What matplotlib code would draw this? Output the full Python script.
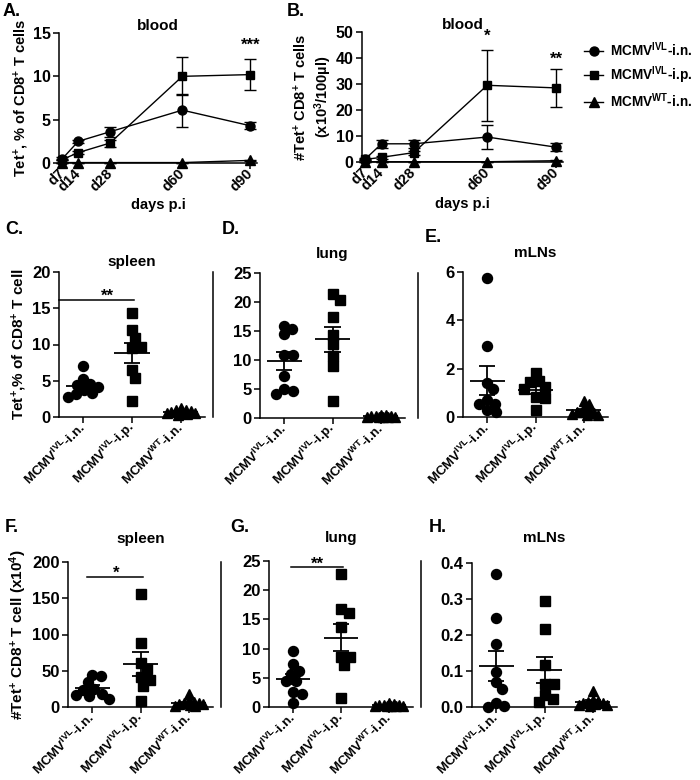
import numpy as np
import matplotlib
matplotlib.use('Agg')
import matplotlib.pyplot as plt
from matplotlib.lines import Line2D

plt.rcParams['font.family'] = ['Liberation Sans', 'DejaVu Sans']
plt.rcParams['font.weight'] = 'bold'
plt.rcParams['axes.labelweight'] = 'bold'
plt.rcParams['axes.titleweight'] = 'bold'
plt.rcParams['mathtext.fontset'] = 'custom'
plt.rcParams['mathtext.rm'] = 'Liberation Sans:bold'
plt.rcParams['mathtext.it'] = 'Liberation Sans:bold'
plt.rcParams['mathtext.bf'] = 'Liberation Sans:bold'
plt.rcParams['mathtext.default'] = 'rm'
plt.rcParams['axes.linewidth'] = 1.1

# ---- time course (blood) ----
days = [7, 14, 28, 60, 90]
day_labels = ['d7', 'd14', 'd28', 'd60', 'd90']

pct_in = [0.5, 2.5, 3.6, 6.1, 4.3]
pct_in_err = [0.2, 0.2, 0.6, 1.9, 0.4]
pct_ip = [0.4, 1.2, 2.3, 10.0, 10.2]
pct_ip_err = [0.1, 0.2, 0.4, 2.2, 1.8]
pct_wt = [0.05, 0.05, 0.05, 0.05, 0.3]
pct_wt_err = [0, 0, 0, 0, 0.05]

num_in = [1.2, 7.0, 7.0, 9.6, 5.7]
num_in_err = [0.5, 1.6, 1.6, 4.7, 1.5]
num_ip = [1.0, 1.8, 3.6, 29.5, 28.5]
num_ip_err = [0.3, 0.5, 0.8, 13.7, 7.2]
num_wt = [0.1, 0.1, 0.1, 0.1, 0.5]
num_wt_err = [0, 0, 0, 0, 0.1]

legend_labels = ['MCMV$^{IVL}$-i.n.', 'MCMV$^{IVL}$-i.p.', 'MCMV$^{WT}$-i.n.']
groups = legend_labels

# ---- organs, % Tet+ of CD8+ ----
spleen_pct = [
    [7.1, 5.3, 4.6, 4.4, 4.2, 3.7, 3.3, 3.2, 2.8],
    [14.4, 12.0, 10.9, 9.5, 9.6, 6.5, 5.4, 2.2],
    [1.2, 1.0, 0.9, 0.8, 0.7, 0.6, 0.5, 0.5, 0.4, 0.3],
]
lung_pct = [
    [15.9, 15.4, 14.4, 10.9, 10.8, 7.2, 5.0, 4.6, 4.2],
    [21.3, 20.4, 17.4, 14.3, 12.7, 10.7, 8.9, 2.9],
    [0.6, 0.5, 0.4, 0.3, 0.3, 0.2, 0.2, 0.1, 0.1, 0.1],
]
mln_pct = [
    [5.75, 2.92, 1.41, 1.14, 0.72, 0.55, 0.55, 0.28, 0.2],
    [1.82, 1.49, 1.45, 1.24, 1.17, 0.83, 0.79, 0.3],
    [0.65, 0.55, 0.39, 0.28, 0.2, 0.2, 0.17, 0.14, 0.1, 0.08],
]

# ---- organs, # Tet+ CD8+ ----
spleen_num = [
    [44.4, 43.0, 33.9, 24.7, 23.8, 18.3, 17.0, 14.6, 11.0],
    [156.5, 87.9, 61.3, 52.2, 40.7, 37.5, 29.3, 7.8],
    [18, 9, 7, 6, 5, 4, 4, 3, 2, 2],
]
lung_num = [
    [9.6, 7.3, 6.2, 5.7, 4.5, 4.5, 2.6, 2.2, 0.7],
    [22.7, 16.8, 16.1, 13.7, 8.6, 8.5, 7.2, 1.6],
    [0.6, 0.5, 0.4, 0.3, 0.3, 0.2, 0.2, 0.1, 0.1, 0.1],
]
mln_num = [
    [0.369, 0.246, 0.174, 0.096, 0.069, 0.051, 0.011, 0.002, 0.0],
    [0.295, 0.218, 0.117, 0.065, 0.065, 0.032, 0.023, 0.013],
    [0.045, 0.02, 0.018, 0.015, 0.012, 0.01, 0.008, 0.006, 0.005, 0.004],
]

markers = ['o', 's', '^']
msizes = [7.2, 6.5, 7.5]

fig = plt.figure(figsize=(7, 7.8), dpi=100)


def box(left, top, right, bottom):
    return [left / 700, 1 - bottom / 780, (right - left) / 700, (bottom - top) / 780]


def style(ax, size=11.5):
    ax.spines['top'].set_visible(False)
    ax.spines['right'].set_visible(False)
    ax.tick_params(direction='out', length=4, width=1.1, labelsize=size, pad=2)


# ---------- A and B ----------
def time_panel(ax, series, title, ylabel, yticks, ymax):
    for (vals, err), m, ms in zip(series, markers, msizes):
        ax.errorbar(days, vals, yerr=err, fmt='-' + m, color='k', ms=ms * 0.9,
                    lw=1.0, elinewidth=1.0, capsize=4, capthick=1.0, clip_on=False)
    ax.set_xlim(5.5, 93)
    ax.set_ylim(0, ymax)
    ax.set_yticks(yticks)
    ax.set_xticks(days)
    style(ax, 11.5)
    ax.set_xticklabels(day_labels, rotation=45, ha='right', va='center',
                       rotation_mode='anchor', fontsize=10.5)
    ax.set_xlabel('days p.i', fontsize=10.5, labelpad=3)
    ax.set_ylabel(ylabel, fontsize=10.5, labelpad=1)
    ax.set_title(title, fontsize=11, pad=1)


axA = fig.add_axes(box(59, 33, 257, 163))
time_panel(axA, [(pct_in, pct_in_err), (pct_ip, pct_ip_err), (pct_wt, pct_wt_err)],
           'blood', 'Tet$^{+}$, % of CD8$^{+}$ T cells', [0, 5, 10, 15], 15)
axA.text(90, 13.6, '***', ha='center', va='center', fontsize=12)

axB = fig.add_axes(box(362, 32, 563, 162))
time_panel(axB, [(num_in, num_in_err), (num_ip, num_ip_err), (num_wt, num_wt_err)],
           'blood', '#Tet$^{+}$ CD8$^{+}$ T cells\n(x10$^{3}$/100µl)',
           [0, 10, 20, 30, 40, 50], 50)
axB.text(60, 48.5, '*', ha='center', va='center', fontsize=12)
axB.text(90, 39.5, '**', ha='center', va='center', fontsize=12)

handles = [Line2D([], [], color='k', marker=m, ms=ms * 0.9, lw=1.0)
           for m, ms in zip(markers, msizes)]
fig.legend(handles, legend_labels, loc='upper left', bbox_to_anchor=(572 / 700, 1 - 28 / 780),
           frameon=False, handlelength=1.4, handletextpad=0.5, labelspacing=0.4,
           prop={'size': 9.8, 'weight': 'bold'})


# ---------- dot plots ----------
def swarm(ax, x0, vals, diam, max_off):
    tr = ax.transData
    ys = [tr.transform((x0, v))[1] for v in vals]
    unit = tr.transform((x0 + 1, 0))[0] - tr.transform((x0, 0))[0]
    lim = int(max_off * unit)
    placed, xs = [], []
    for y in ys:
        best, best_d = 0, -1.0
        for k in range(2 * lim + 1):
            dx = (k + 1) // 2 * (1 if k % 2 else -1)
            d = min([np.hypot(dx - px, y - py) for px, py in placed] or [1e9])
            if d >= diam:
                best = dx
                break
            if d > best_d:
                best, best_d = dx, d
        placed.append((best, y))
        xs.append(x0 + best / unit)
    return xs


def dot_panel(rect, data, title, yticks, ymax, tpad, ylabel=None, sep=None, fmt=None):
    ax = fig.add_axes(box(*rect))
    ax.set_xlim(-0.5, 2.5)
    ax.set_ylim(0, ymax)
    for i, vals in enumerate(data):
        if i < 2:
            xs = swarm(ax, i, vals, 8.5, 0.4)
        else:
            xs = swarm(ax, i, vals, 5, 0.3)
        ax.plot(xs, vals, ls='none', marker=markers[i], ms=msizes[i], color='k',
                clip_on=False, zorder=3)
        m = np.mean(vals)
        se = np.std(vals, ddof=1) / np.sqrt(len(vals))
        kw = dict(color='k', lw=1.3, zorder=4, solid_capstyle='butt', clip_on=False)
        ax.plot([i - 0.36, i + 0.36], [m, m], **kw)
        ax.plot([i, i], [m - se, m + se], **kw)
        ax.plot([i - 0.17, i + 0.17], [m + se, m + se], **kw)
        ax.plot([i - 0.17, i + 0.17], [m - se, m - se], **kw)
    ax.set_xticks(range(3))
    ax.set_yticks(yticks)
    style(ax, 12)
    ax.set_xticklabels(groups, rotation=45, ha='right', va='center',
                       rotation_mode='anchor', fontsize=9.5)
    if fmt:
        ax.set_yticklabels([fmt % t for t in yticks])
    ax.set_title(title, fontsize=11, pad=tpad)
    if ylabel:
        ax.set_ylabel(ylabel, fontsize=11, labelpad=2)
    if sep is not None:
        ax.spines['right'].set_visible(True)
        ax.spines['right'].set_position(('outward', sep))
    return ax


def sig(ax, x0, x1, y, label, dy):
    ax.plot([x0, x1], [y, y], color='k', lw=1.1, clip_on=False)
    ax.text(0.5, y + dy, label, ha='center', va='bottom', fontsize=12)


axC = dot_panel((59, 272, 205, 417), spleen_pct, 'spleen', [0, 5, 10, 15, 20], 20, 4,
                'Tet$^{+}$,% of CD8$^{+}$ T cell', sep=6)
sig(axC, -0.5, 1.05, 16.2, '**', -0.6)
axD = dot_panel((260, 273, 405, 418), lung_pct, 'lung', [0, 5, 10, 15, 20, 25], 25, 11, sep=9)
axE = dot_panel((463, 272, 608, 417), mln_pct, 'mLNs', [0, 2, 4, 6], 6, 11)

axF = dot_panel((68, 562, 213, 707), spleen_num, 'spleen', [0, 50, 100, 150, 200], 200, 14,
                '#Tet$^{+}$ CD8$^{+}$ T cell (x10$^{4}$)', sep=6)
sig(axF, -0.1, 1.05, 180, '*', -6)
axG = dot_panel((269, 561, 413, 707), lung_num, 'lung', [0, 5, 10, 15, 20, 25], 25, 14, sep=6)
sig(axG, -0.05, 1.05, 24, '**', -0.8)
axH = dot_panel((472, 563, 617, 707), mln_num, 'mLNs', [0, 0.1, 0.2, 0.3, 0.4], 0.4, 15,
                fmt='%.1f')

# panel letters
for lab, x, y in [('A.', 3, 12), ('B.', 287, 12), ('C.', 5, 230), ('D.', 222, 230),
                  ('E.', 425, 238), ('F.', 5, 527), ('G.', 230, 527), ('H.', 429, 527)]:
    fig.text(x / 700, 1 - y / 780, lab, fontsize=13, ha='left', va='center')

fig.savefig('out.png', dpi=100)
